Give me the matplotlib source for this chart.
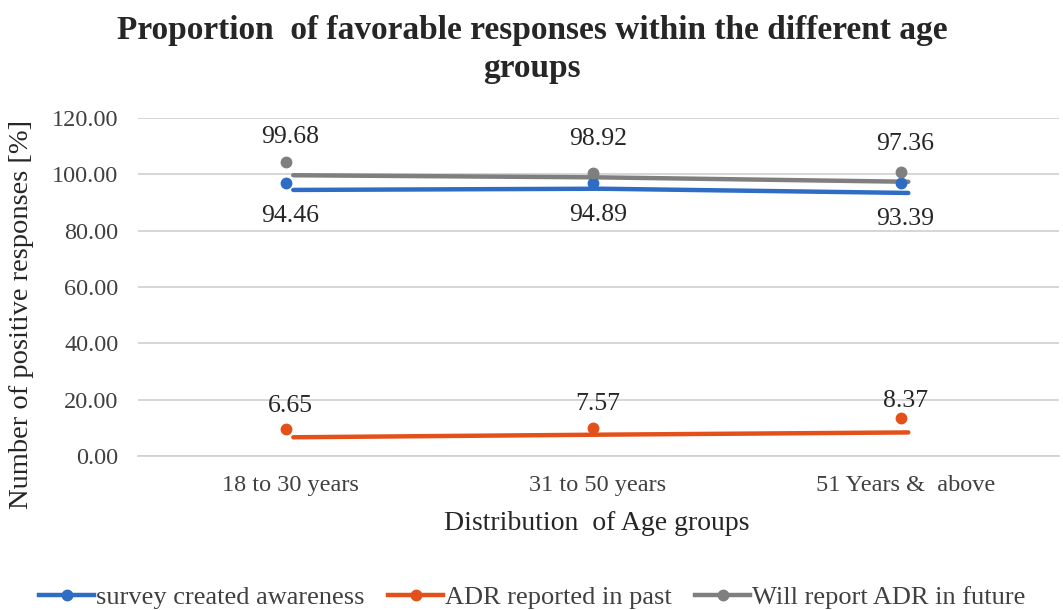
import matplotlib
matplotlib.use("Agg")
import matplotlib.pyplot as plt
from matplotlib.lines import Line2D

plt.rcParams["font.family"] = ["Liberation Serif", "DejaVu Serif"]

age_groups = ["18 to 30 years", "31 to 50 years", "51 Years &  above"]
series_names = ["survey created awareness", "ADR reported in past", "Will report ADR in future"]
awareness = [94.46, 94.89, 93.39]
reported_past = [6.65, 7.57, 8.37]
report_future = [99.68, 98.92, 97.36]
# point markers of each series
awareness_pts = [96.9, 97.0, 97.0]
reported_past_pts = [9.6, 9.8, 13.5]
report_future_pts = [104.4, 100.6, 100.9]
y_ticks = [0, 20, 40, 60, 80, 100, 120]

colors = ["#2F6CC4", "#E4501A", "#7F7F7F"]
label_offsets = [-26, 31, 38]  # pixels below/above the line

fig = plt.figure(figsize=(10.63, 6.10), dpi=100)
ax = fig.add_axes([138 / 1063, 1 - 456 / 610, (1059 - 138) / 1063, (456 - 118) / 610])

x = list(range(len(age_groups)))
lines = [awareness, reported_past, report_future]
pts = [awareness_pts, reported_past_pts, report_future_pts]

for vals, p, c, off in zip(lines, pts, colors, label_offsets):
    ax.plot([xi + 0.01 for xi in x], vals, color=c, lw=3.2, solid_capstyle="round", zorder=3)
    ax.plot([xi - 0.015 for xi in x], p, ls="none", marker="o", ms=7.5, color=c, zorder=4)
    for xi, v in zip(x, vals):
        ax.annotate(f"{v:.2f}", (xi, v), xytext=(0, off * 0.72), textcoords="offset points",
                    ha="center", va="center", fontsize=18.5, color="#262626")

ax.set_xlim(-0.495, 2.5)
ax.set_ylim(0, 120)
ax.set_yticks(y_ticks)
ax.set_yticklabels([f"{t:.2f}" for t in y_ticks], fontsize=17.5, color="#404040")
ax.set_xticks(x)
ax.set_xticklabels(age_groups, fontsize=17.5, color="#404040")
ax.tick_params(length=0)
ax.tick_params(axis="x", pad=14)
ax.tick_params(axis="y", pad=14)
ax.grid(axis="y", color="#D0D0D0", lw=1.2)
ax.set_axisbelow(True)
for s in ax.spines.values():
    s.set_visible(False)
ax.spines["bottom"].set_visible(True)
ax.spines["bottom"].set_color("#D0D0D0")
ax.spines["bottom"].set_linewidth(1.2)

fig.text(597 / 1063, 1 - 523 / 610, "Distribution  of Age groups",
         ha="center", va="center", fontsize=20, color="#262626")
fig.text(22 / 1063, 1 - 314 / 610, "Number of positive responses [%]", rotation=90,
         ha="center", va="center", fontsize=20.5, color="#262626")

fig.text(532 / 1063, 1 - 31 / 610, "Proportion  of favorable responses within the different age",
         ha="center", va="center", fontsize=24, fontweight="bold", color="#262626")
fig.text(532 / 1063, 1 - 69 / 610, "groups",
         ha="center", va="center", fontsize=24, fontweight="bold", color="#262626")

handles = [Line2D([], [], color=c, lw=3.2, marker="o", ms=7.5) for c in colors]
fig.legend(handles, series_names, loc="center", bbox_to_anchor=(532 / 1063, 1 - 597 / 610),
           ncol=3, frameon=False, fontsize=19, handlelength=2.1, handletextpad=0.05,
           columnspacing=0.9, labelcolor="#404040")

fig.savefig("out.png", dpi=100)
